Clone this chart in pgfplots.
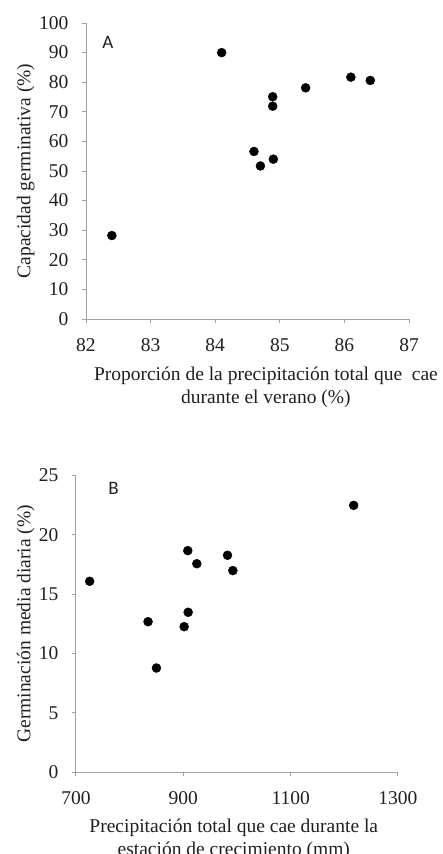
\documentclass[border=0pt]{standalone}
\usepackage{pgfplots}
\pgfplotsset{compat=1.18}
\usepackage{fontspec}
\setmainfont{Liberation Serif}
\newfontfamily\labfont{Carlito}
\definecolor{axgray}{RGB}{160,160,160}
\definecolor{txt}{RGB}{35,31,32}
\begin{document}
\begin{tikzpicture}
\useasboundingbox (0pt,-854pt) rectangle (443pt,0pt);
\pgfplotsset{
  myax/.style={
    scale only axis,
    axis lines*=left,
    axis line style={axgray,line width=1pt},
    tick style={axgray,line width=1pt},
    tick align=outside,
    major tick length=4pt,
    minor tick num=0,
    /pgf/number format/assume math mode=true,
    /pgf/number format/1000 sep={},
    ticklabel style={font=\fontsize{19.5}{22}\selectfont,text=txt},
    xticklabel style={yshift=-12pt},
    yticklabel style={xshift=-10pt},
    label style={font=\fontsize{19.5}{23}\selectfont,text=txt,align=center},
    clip=false,
  },
}
% Panel A
\begin{axis}[myax,
  at={(86pt,-319pt)}, anchor=south west,
  width=323pt, height=296pt,
  xmin=82, xmax=87, ymin=0, ymax=100,
  xtick={82,83,84,85,86,87},
  ytick={0,10,20,30,40,50,60,70,80,90,100},
  xlabel={Proporción de la precipitación total que\ \ cae\\durante el verano (\%)},
  ylabel={Capacidad germinativa (\%)},
  xlabel style={at={(axis description cs:0.557,0)},anchor=north,yshift=-44pt},
  ylabel style={at={(axis description cs:0,0.5)},anchor=south,yshift=48pt},
]
\addplot[only marks, mark=*, mark size=4.5pt, mark options={fill=black,draw=black}]
coordinates {
(82.40,28.2) (84.10,90.0) (84.89,75.1) (84.89,71.9) (85.40,78.1)
(86.10,81.7) (86.40,80.6) (84.60,56.6) (84.70,51.7) (84.90,54.0)
};
\node[anchor=west,inner sep=0pt,font=\labfont\fontsize{19}{21}\selectfont,text=txt] at (axis description cs:0.05,0.936) {A};
\end{axis}
% Panel B
\begin{axis}[myax,
  at={(76pt,-772.3pt)}, anchor=south west,
  width=322pt, height=297pt,
  xmin=700, xmax=1300, ymin=0, ymax=25,
  xtick={700,900,1100,1300},
  ytick={0,5,10,15,20,25},
  xlabel={Precipitación total que cae durante la\\estación de crecimiento (mm)},
  ylabel={Germinación media diaria (\%)},
  xlabel style={at={(axis description cs:0.49,0)},anchor=north,yshift=-43pt},
  ylabel style={at={(axis description cs:0,0.5)},anchor=south,yshift=38pt},
]
\addplot[only marks, mark=*, mark size=4.5pt, mark options={fill=black,draw=black}]
coordinates {
(725.5,16.08) (834.3,12.68) (849.9,8.78) (901.5,12.26) (908.3,18.66)
(909.0,13.47) (925.1,17.56) (982.3,18.27) (992.3,16.98) (1217.4,22.47)
};
\node[anchor=west,inner sep=0pt,font=\labfont\fontsize{19}{21}\selectfont,text=txt] at (axis description cs:0.10,0.956) {B};
\end{axis}
\end{tikzpicture}
\end{document}
